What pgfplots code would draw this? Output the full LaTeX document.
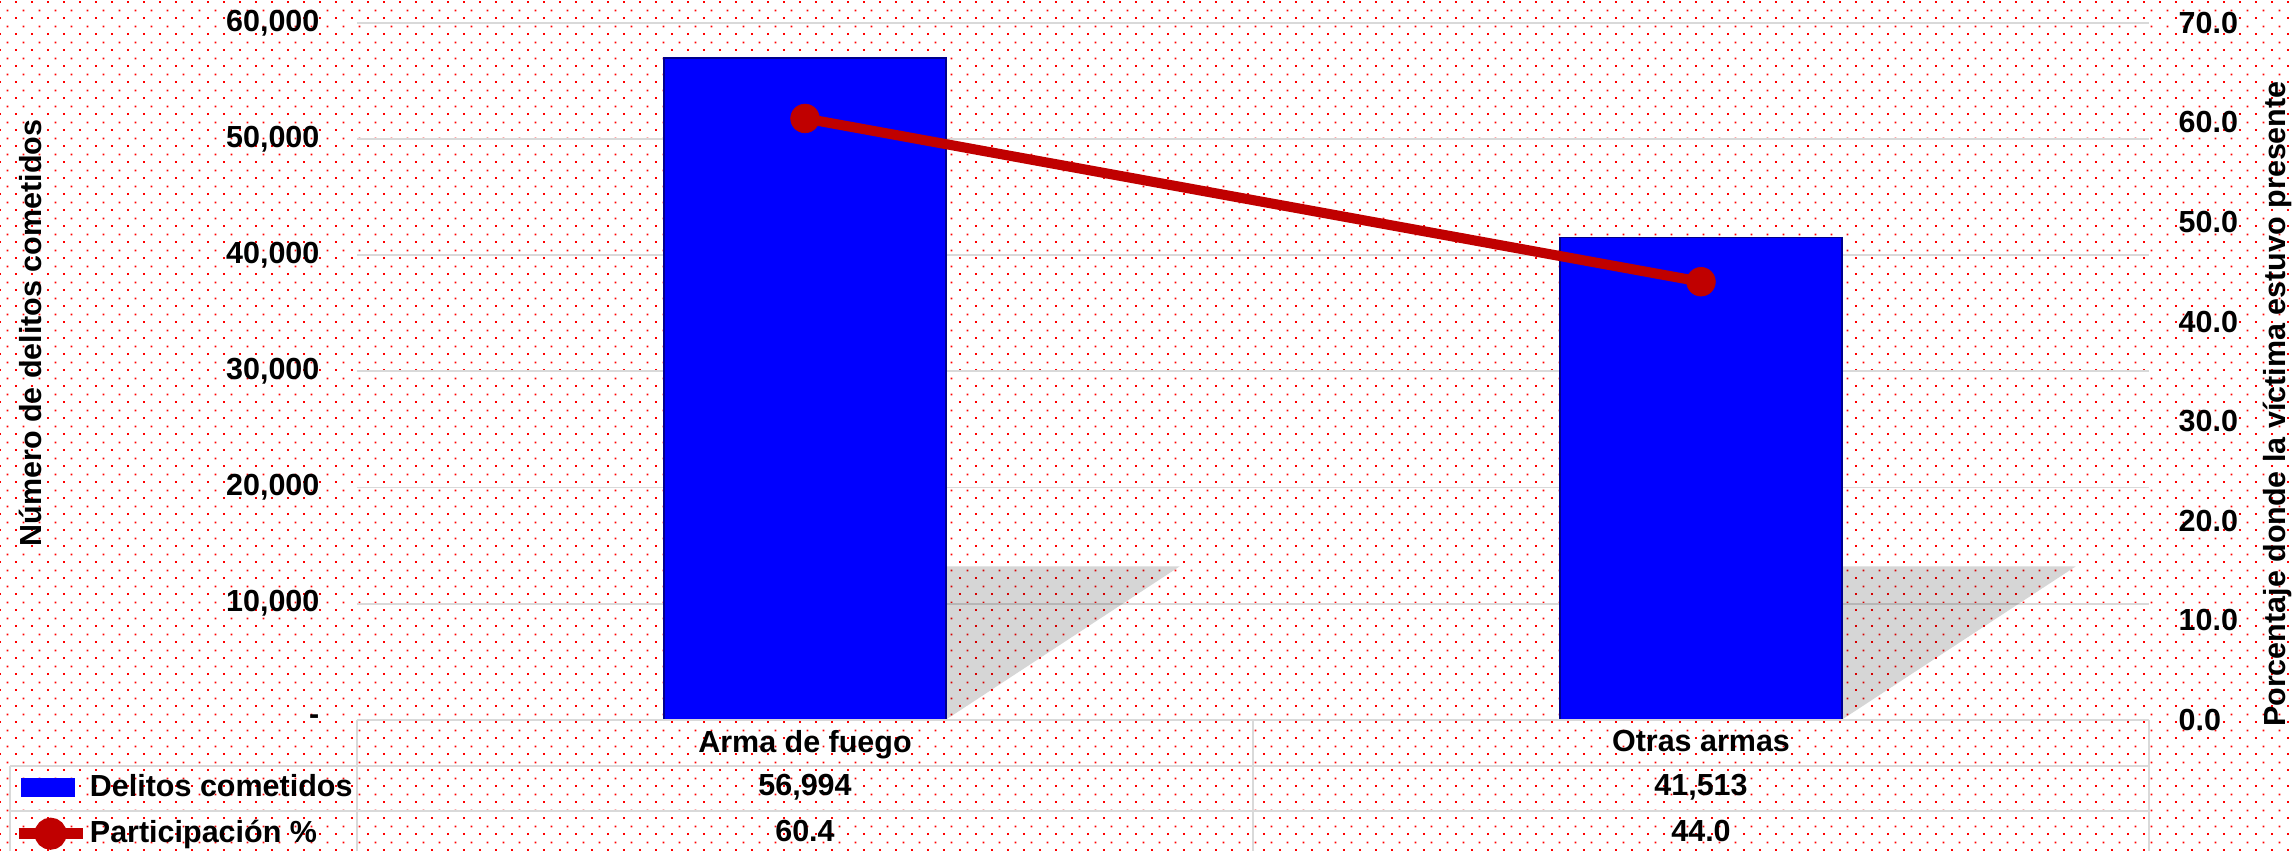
\documentclass[border=0pt]{standalone}
\usepackage{fontspec}
\setmainfont{Liberation Sans}
\usepackage{pgfplots}
\pgfplotsset{compat=1.18}
\usetikzlibrary{patterns}

\definecolor{barblue}{RGB}{0,0,255}
\definecolor{linered}{RGB}{192,0,0}
\definecolor{gridgray}{RGB}{217,217,217}

% fondo de puntos rojos
\pgfdeclarepatternformonly{reddots}{\pgfqpoint{0pt}{0pt}}{\pgfqpoint{5.25pt}{5.25pt}}{\pgfqpoint{5.25pt}{5.25pt}}{%
  \pgfpathrectangle{\pgfqpoint{0pt}{0pt}}{\pgfqpoint{0.66pt}{0.66pt}}%
  \pgfpathrectangle{\pgfqpoint{2.625pt}{2.625pt}}{\pgfqpoint{0.66pt}{0.66pt}}%
  \pgfusepath{fill}}

\begin{document}
\begin{tikzpicture}[font=\bfseries]
  \fill[pattern=reddots, pattern color=red] (-117.1pt,-43pt) rectangle (634.7pt,236.1pt);
  \path[use as bounding box] (-117.1pt,-43pt) rectangle (634.7pt,236.1pt);

  % barras: delitos cometidos
  \begin{axis}[
    at={(0,0)}, anchor=south west,
    scale only axis, width=587.8pt, height=228.6pt,
    xmin=-0.5, xmax=1.5,
    ymin=0, ymax=60000,
    clip=false,
    axis line style={draw=none},
    major tick length=0pt,
    ybar, bar width=92.5pt,
    xtick={0,1},
    xticklabels={Arma de fuego, Otras armas},
    ytick={0,10000,20000,30000,40000,50000,60000},
    yticklabels={{-},{10,000},{20,000},{30,000},{40,000},{50,000},{60,000}},
    scaled y ticks=false,
    yticklabel style={xshift=-8.8pt},
    ymajorgrids,
    major grid style={gridgray, line width=0.6pt},
  ]
    % sombras
    \fill[black, opacity=0.16] (axis cs:0.157,0) -- (axis cs:0.157,13200) -- (axis cs:0.418,13200) -- cycle;
    \fill[black, opacity=0.16] (axis cs:1.157,0) -- (axis cs:1.157,13200) -- (axis cs:1.418,13200) -- cycle;
    \addplot[fill=barblue, draw=blue!55!black, line width=0.5pt] coordinates {(0,56994) (1,41513)};

    \node[rotate=90] at ([xshift=-107pt]axis description cs:0,0.555) {Número de delitos cometidos};
    \node at ([yshift=-22pt]axis cs:0,0) {56,994};
    \node at ([yshift=-22pt]axis cs:1,0) {41,513};
    \node at ([yshift=-36.4pt]axis cs:0,0) {60.4};
    \node at ([yshift=-36.4pt]axis cs:1,0) {44.0};
  \end{axis}

  % linea: participacion
  \begin{axis}[
    at={(0,0)}, anchor=south west,
    scale only axis, width=587.8pt, height=228.6pt,
    xmin=-0.5, xmax=1.5,
    ymin=0, ymax=70,
    clip=false,
    axis x line=none,
    axis y line*=right,
    axis line style={draw=none},
    major tick length=0pt,
    ytick={0,10,20,30,40,50,60,70},
    yticklabel style={xshift=6.2pt,
      /pgf/number format/.cd, fixed, fixed zerofill, precision=1, assume math mode=true},
    legend style={at={(axis description cs:0,0)}, anchor=north west,
      xshift=-113pt, yshift=-15.6pt, draw=none, fill=none,
      inner sep=0pt, row sep=2.4pt, font=\bfseries,
      nodes={inner xsep=0.6pt}},
    legend cell align=left,
  ]
    \addlegendimage{legend image code/.code={\fill[barblue] (0pt,-2.8pt) rectangle (17.4pt,2.8pt);}}
    \addlegendentry{Delitos cometidos}
    \addplot[linered, line width=3.3pt, mark=*, mark size=4.7pt,
      mark options={line width=0.2pt},
      legend image code/.code={\draw[linered, line width=3.6pt] (-1pt,0pt) -- (20pt,0pt);
        \fill[linered] (9.5pt,0pt) circle (3.6pt);}]
      coordinates {(0,60.4) (1,44.0)};
    \addlegendentry{Participación \%}

    \node[rotate=90] at ([xshift=42pt]axis description cs:1,0.453) {Porcentaje donde la víctima estuvo presente};
  \end{axis}

  % cuadricula de la tabla de datos
  \draw[gridgray, line width=0.7pt]
    (0,0) -- (587.8pt,0)
    (-113.8pt,-15.1pt) -- (587.8pt,-15.1pt)
    (-113.8pt,-29.8pt) -- (587.8pt,-29.8pt)
    (0,0) -- (0,-43pt)
    (293.9pt,0) -- (293.9pt,-43pt)
    (587.8pt,0) -- (587.8pt,-43pt)
    (-113.8pt,-15.1pt) -- (-113.8pt,-43pt);
\end{tikzpicture}
\end{document}
